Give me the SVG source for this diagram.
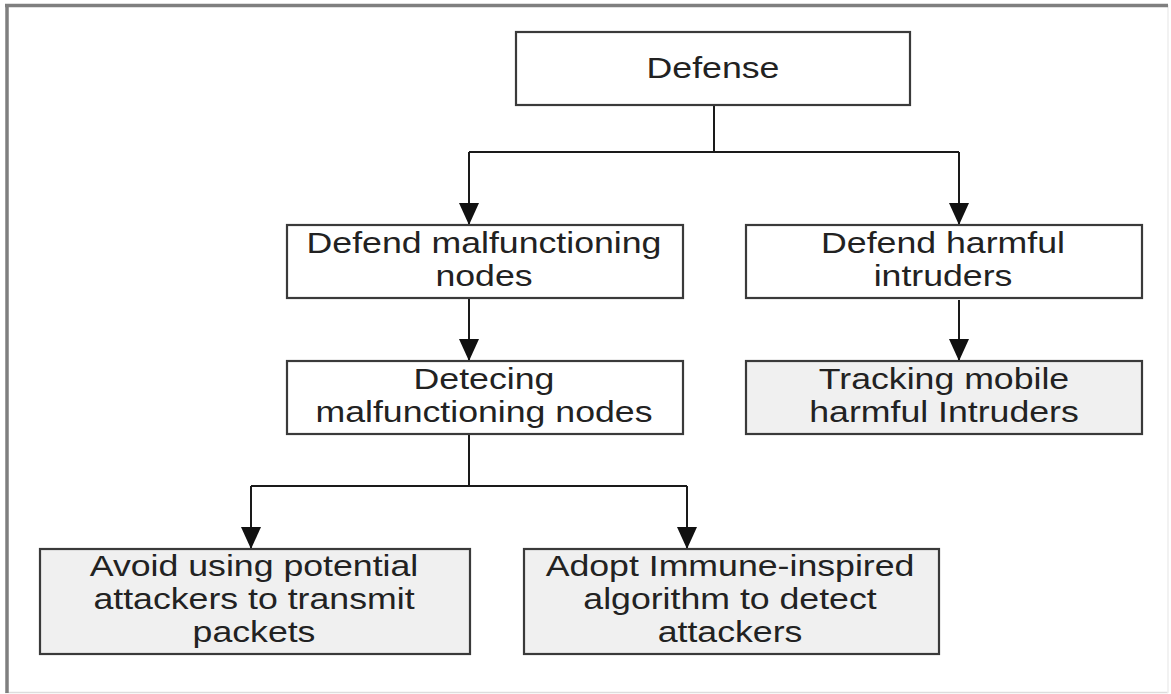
<svg xmlns="http://www.w3.org/2000/svg" width="1171" height="694" viewBox="0 0 1171 694">
  <style>
    .box { fill: #ffffff; stroke: #3a3a3a; stroke-width: 2.2; }
    .leaf { fill: #f0f0f0; }
    .lbl { font-family: "Liberation Sans", Arial, sans-serif; font-size: 29px; fill: #222222; text-anchor: middle; }
    .wire { fill: none; stroke: #1a1a1a; stroke-width: 2; }
  </style>
  <defs>
    <marker id="arrow" viewBox="0 0 22 20" refX="22" refY="10" markerWidth="22" markerHeight="20" markerUnits="userSpaceOnUse" orient="auto">
      <path d="M0,0 L22,10 L0,20 z" fill="#111111"/>
    </marker>
  </defs>

  <!-- page background and frame -->
  <rect x="0" y="0" width="1171" height="694" fill="#ffffff"/>
  <line x1="5" y1="692.5" x2="1168" y2="692.5" stroke="#dddddd" stroke-width="1.5"/>
  <line x1="1168" y1="5" x2="1168" y2="693" stroke="#eeeeee" stroke-width="1.5"/>
  <line x1="5" y1="5.5" x2="1168" y2="5.5" stroke="#7f7f7f" stroke-width="3.5"/>
  <line x1="7" y1="4" x2="7" y2="693" stroke="#7f7f7f" stroke-width="3.5"/>

  <!-- connectors -->
  <g id="connectors">
    <path class="wire" d="M714,105 V152 M469,152 H959"/>
    <path class="wire" d="M469,152 V225" marker-end="url(#arrow)"/>
    <path class="wire" d="M959,152 V225" marker-end="url(#arrow)"/>
    <path class="wire" d="M469,298 V361" marker-end="url(#arrow)"/>
    <path class="wire" d="M959,300 V361" marker-end="url(#arrow)"/>
    <path class="wire" d="M469,434 V486 M251,486 H687"/>
    <path class="wire" d="M251,486 V549" marker-end="url(#arrow)"/>
    <path class="wire" d="M687,486 V549" marker-end="url(#arrow)"/>
  </g>

  <!-- nodes -->
  <g id="defense">
    <rect class="box" x="516" y="32" width="394" height="73"/>
    <text class="lbl" transform="translate(713 0) scale(1.23 1)" x="0" y="78">Defense</text>
  </g>

  <g id="defend-malfunctioning">
    <rect class="box" x="287" y="225" width="396" height="73"/>
    <text class="lbl" transform="translate(484 0) scale(1.23 1)" x="0" y="253">Defend malfunctioning</text>
    <text class="lbl" transform="translate(484 0) scale(1.23 1)" x="0" y="286">nodes</text>
  </g>

  <g id="defend-harmful">
    <rect class="box" x="746" y="225" width="396" height="73"/>
    <text class="lbl" transform="translate(943 0) scale(1.23 1)" x="0" y="253">Defend harmful</text>
    <text class="lbl" transform="translate(943 0) scale(1.23 1)" x="0" y="286">intruders</text>
  </g>

  <g id="detecting-malfunctioning">
    <rect class="box" x="287" y="361" width="396" height="73"/>
    <text class="lbl" transform="translate(484 0) scale(1.23 1)" x="0" y="389">Detecing</text>
    <text class="lbl" transform="translate(484 0) scale(1.23 1)" x="0" y="422">malfunctioning nodes</text>
  </g>

  <g id="tracking-intruders">
    <rect class="box leaf" x="746" y="361" width="396" height="73"/>
    <text class="lbl" transform="translate(944 0) scale(1.23 1)" x="0" y="389">Tracking mobile</text>
    <text class="lbl" transform="translate(944 0) scale(1.23 1)" x="0" y="422">harmful Intruders</text>
  </g>

  <g id="avoid-attackers">
    <rect class="box leaf" x="40" y="549" width="430" height="105"/>
    <text class="lbl" transform="translate(254 0) scale(1.23 1)" x="0" y="576">Avoid using potential</text>
    <text class="lbl" transform="translate(254 0) scale(1.23 1)" x="0" y="609">attackers to transmit</text>
    <text class="lbl" transform="translate(254 0) scale(1.23 1)" x="0" y="642">packets</text>
  </g>

  <g id="immune-algorithm">
    <rect class="box leaf" x="524" y="549" width="415" height="105"/>
    <text class="lbl" transform="translate(730 0) scale(1.23 1)" x="0" y="576">Adopt Immune-inspired</text>
    <text class="lbl" transform="translate(730 0) scale(1.23 1)" x="0" y="609">algorithm to detect</text>
    <text class="lbl" transform="translate(730 0) scale(1.23 1)" x="0" y="642">attackers</text>
  </g>
</svg>
